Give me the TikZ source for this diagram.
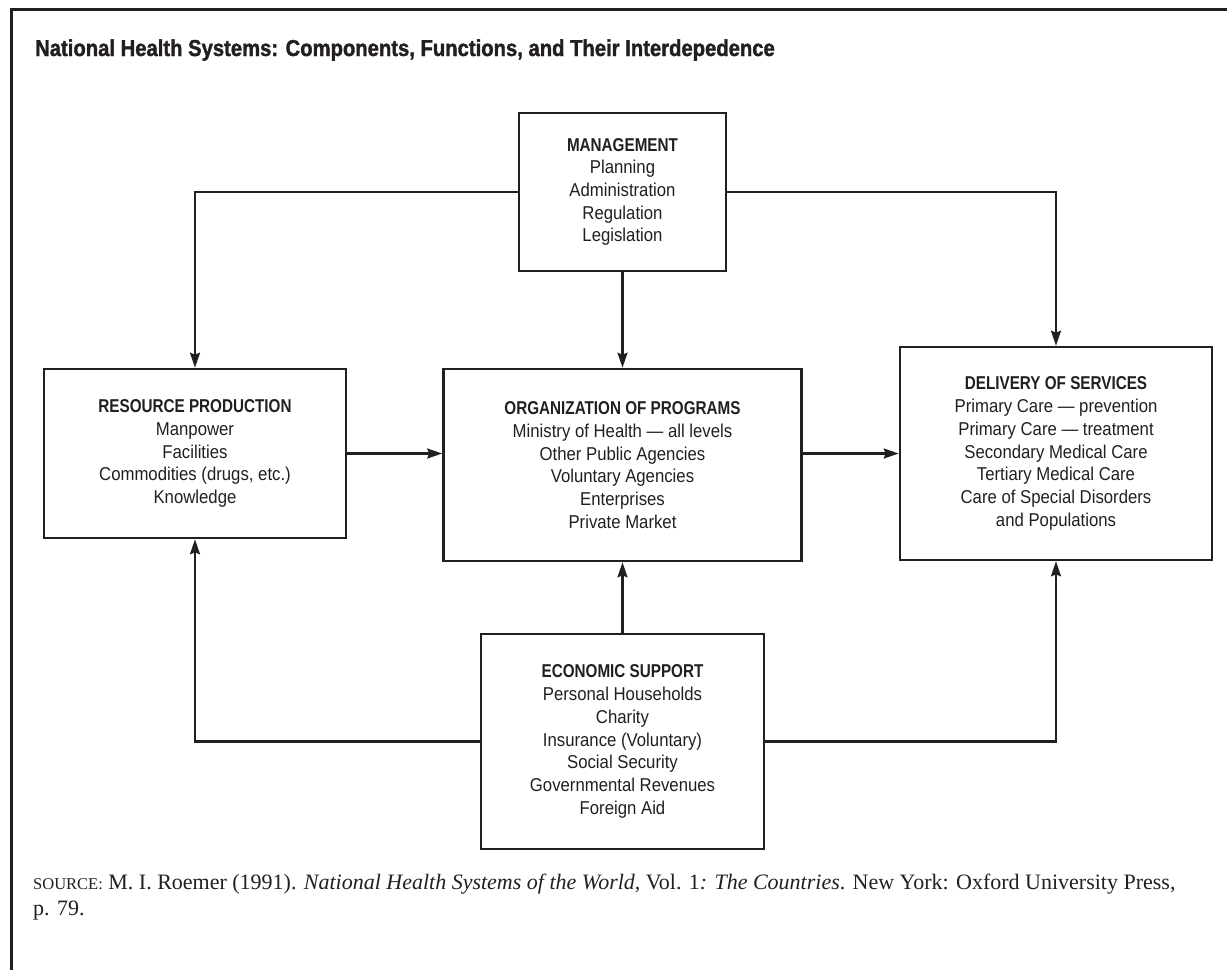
\documentclass[tikz,border=0pt]{standalone}
\usepackage{fontspec}
\setmainfont{Liberation Sans}[FakeStretch=0.9, BoldFeatures={FakeStretch=0.82}]
\newfontfamily\titlefont{Liberation Sans}[FakeStretch=0.88, BoldFeatures={FakeStretch=0.88, FakeBold=1.5}]
\newfontfamily\srcfont{Liberation Serif}
\usetikzlibrary{arrows.meta}
\definecolor{ink}{HTML}{231F20}
\tikzset{
  box/.style={draw=ink, text=ink, line width=2.6pt, align=center, inner sep=0pt,
    font=\fontsize{18.6pt}{22.7pt}\selectfont},
  link/.style={draw=ink, line width=2.2pt},
  arr/.style={link, -{Stealth[length=15pt, width=10pt, inset=2pt]}},
  frame/.style={draw=ink, line width=3pt},
}
\begin{document}
\begin{tikzpicture}[x=1pt, y=-1pt]
\useasboundingbox (0,0) rectangle (1227,970);
\fill[white] (0,0) rectangle (1227,970);
% outer frame (top and left)
\coordinate (ftl) at (11,9);
\coordinate (ftr) at (1227,9);
\coordinate (fbl) at (11,970);
\draw[frame] (ftr) -- (ftl) -- (fbl);
% title
\node[anchor=base west, inner sep=0pt, text=ink, font=\titlefont\bfseries\fontsize{23pt}{28pt}\selectfont] (title) at (35,56)
  {National Health Systems: Components, Functions, and Their Interdepedence};
% boxes
\node[box, minimum width=207pt, minimum height=158pt] (mgmt) at (622.5,192)
  {{\bfseries MANAGEMENT}\\Planning\\Administration\\Regulation\\Legislation};
\node[box, minimum width=302pt, minimum height=169pt] (res) at (195,453.5)
  {{\bfseries RESOURCE PRODUCTION}\\Manpower\\Facilities\\Commodities (drugs, etc.)\\Knowledge};
\node[box, minimum width=358pt, minimum height=192pt] (org) at (622.5,465)
  {{\bfseries ORGANIZATION OF PROGRAMS}\\Ministry of Health — all levels\\Other Public Agencies\\Voluntary Agencies\\Enterprises\\Private Market};
\node[box, minimum width=312pt, minimum height=213pt] (del) at (1056,453.5)
  {{\bfseries DELIVERY OF SERVICES}\\Primary Care — prevention\\Primary Care — treatment\\Secondary Medical Care\\Tertiary Medical Care\\Care of Special Disorders\\and Populations};
\node[box, minimum width=283pt, minimum height=215pt] (eco) at (622.5,741.5)
  {{\bfseries ECONOMIC SUPPORT}\\Personal Households\\Charity\\Insurance (Voluntary)\\Social Security\\Governmental Revenues\\Foreign Aid};
% connectors
\draw[arr] (mgmt.west) -| (res.north);
\draw[arr] (mgmt.east) -| (del.north);
\draw[arr] (mgmt.south) -- (org.north);
\draw[arr] (res.east) -- (org.west |- res.east);
\draw[arr] (org.east |- del.west) -- (del.west);
\draw[arr] (eco.north) -- (org.south);
\draw[arr] (eco.west) -| (res.south);
\draw[arr] (eco.east) -| (del.south);
% source
\node[anchor=base west, inner sep=0pt, text=ink, align=left,
  font=\srcfont\fontsize{22pt}{26pt}\selectfont] (src) at (33,915)
  {{\fontsize{16.5pt}{26pt}\selectfont SOURCE:} M. I. Roemer (1991). \textit{National Health Systems of the World,} Vol. 1\textit{: The Countries}. New York: Oxford University Press,\\p. 79.};
\end{tikzpicture}
\end{document}
